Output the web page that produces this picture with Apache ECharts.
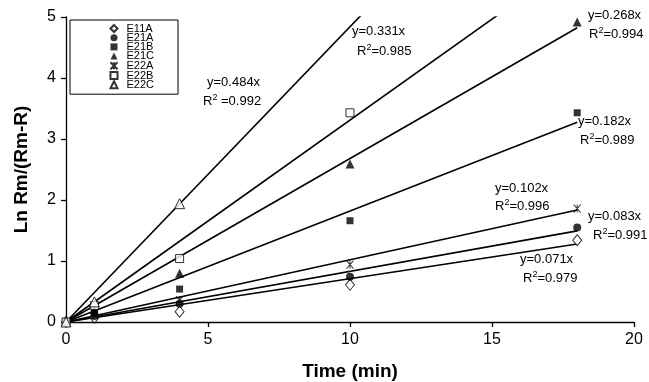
<!DOCTYPE html>
<html>
<head>
<meta charset="utf-8">
<script src="https://cdn.jsdelivr.net/npm/echarts@6/dist/echarts.min.js"></script>
<style>
  html, body { margin: 0; padding: 0; background: #fff; }
  #chart { width: 649px; height: 382px; }
</style>
</head>
<body>
<div id="chart"></div>
<script>
// Sampling times (min)
const time = [0, 1, 4, 10, 18];

// Measured Ln Rm/(Rm-R) per sample
const E11A = [0, 0.07, 0.17, 0.61, 1.34];
const E21A = [0, 0.10, 0.30, 0.74, 1.55];
const E21B = [0, 0.15, 0.54, 1.66, 3.43];
const E21C = [0, 0.20, 0.80, 2.59, 4.92];
const E22A = [0, 0.12, 0.36, 0.94, 1.86];
const E22B = [0, 0.27, 1.04, 3.43];
const E22C = [0, 0.33, 1.94];

// Fitted slopes (y = k·x) and R² values
const names  = ['E11A', 'E21A', 'E21B', 'E21C', 'E22A', 'E22B', 'E22C'];
const slopes = [0.071, 0.083, 0.182, 0.268, 0.102, 0.331, 0.484];
const r2     = ['0.979', '0.991', '0.989', '0.994', '0.996', '0.985', '0.992'];
const fitEnd = 18;

// Axis ticks
const xTicks = { min: 0, max: 20, interval: 5 };
const yTicks = { min: 0, max: 5, interval: 1 };

const FONT = '"Liberation Sans", Arial, Helvetica, sans-serif';
const values = [E11A, E21A, E21B, E21C, E22A, E22B, E22C];

const asterisk = 'path://M0,0 L10,10 M10,0 L0,10 M5,0 L5,10 M5,10 L5,0 M0,0 L10,10';
const markerStyles = {
  E11A: { symbol: 'diamond', symbolSize: [9, 11], itemStyle: { color: '#fff', borderColor: '#000', borderWidth: 1 } },
  E21A: { symbol: 'circle', symbolSize: 8, itemStyle: { color: '#000' } },
  E21B: { symbol: 'rect', symbolSize: 7, itemStyle: { color: '#000' } },
  E21C: { symbol: 'triangle', symbolSize: [9, 9], itemStyle: { color: '#000' } },
  E22A: { symbol: asterisk, symbolSize: [7, 8], itemStyle: { color: 'none', borderColor: '#000', borderWidth: 1 } },
  E22B: { symbol: 'rect', symbolSize: 8, itemStyle: { color: '#fff', borderColor: '#000', borderWidth: 1 } },
  E22C: { symbol: 'triangle', symbolSize: [10, 10], itemStyle: { color: '#fff', borderColor: '#000', borderWidth: 1 } }
};

const series = [];
// Fitted lines through the origin, clipped by the plot area
names.forEach((n, i) => {
  series.push({
    type: 'line',
    name: n + ' fit',
    data: [[0, 0], [fitEnd, slopes[i] * fitEnd]],
    showSymbol: false,
    symbol: 'none',
    clip: true,
    lineStyle: { color: '#000', width: 1.6 },
    z: 2,
    silent: true
  });
});
// Measured points
names.forEach((n, i) => {
  series.push(Object.assign({
    type: 'scatter',
    name: n,
    data: values[i].map((v, j) => [time[j], v]),
    z: 5
  }, markerStyles[n]));
});

// Equation annotations: [series index, eq left, eq top, R² left, R² top]
const notes = [
  [6, 207, 76, 203, 93],
  [5, 352, 25, 357, 43],
  [3, 588, 9, 589, 26],
  [2, 578, 115, 580, 132],
  [4, 495, 182, 495, 198],
  [1, 588, 210, 593, 227],
  [0, 520, 253, 523, 270]
];
const graphic = [];
notes.forEach(([i, x1, y1, x2, y2]) => {
  graphic.push({
    type: 'text', left: x1, top: y1, z: 10,
    style: { text: 'y=' + slopes[i].toFixed(3) + 'x', font: '13px ' + FONT, fill: '#000' }
  });
  graphic.push({
    type: 'text', left: x2, top: y2, z: 10,
    style: {
      text: '{a|R}{s|2}{a|' + (i === 6 ? ' ' : '') + '=' + r2[i] + '}',
      fill: '#000',
      rich: {
        a: { fontSize: 13, fontFamily: FONT, lineHeight: 17, color: '#000' },
        s: { fontSize: 9, fontFamily: FONT, lineHeight: 9, verticalAlign: 'top', color: '#000' }
      }
    }
  });
});

const chart = echarts.init(document.getElementById('chart'), null, { renderer: 'canvas' });
chart.setOption({
  backgroundColor: '#fff',
  animation: false,
  grid: { left: 66, right: 15, top: 17, bottom: 60, containLabel: false, outerBoundsMode: 'none' },
  legend: {
    data: names,
    orient: 'vertical',
    left: 70, top: 20,
    padding: [3, 24, 4, 38],
    itemGap: -1.8,
    itemWidth: 7, itemHeight: 7,
    borderColor: '#000', borderWidth: 1,
    backgroundColor: '#fff',
    textStyle: { fontFamily: FONT, fontSize: 11, color: '#000', padding: [0, 0, 0, 4] },
    selectedMode: false
  },
  xAxis: {
    type: 'value', min: xTicks.min, max: xTicks.max, interval: xTicks.interval,
    name: 'Time (min)', nameLocation: 'middle', nameGap: 40,
    nameTextStyle: { fontFamily: FONT, fontSize: 19, fontWeight: 'bold', color: '#000' },
    axisLine: { lineStyle: { color: '#000', width: 1.3 } },
    axisTick: { show: true, length: 5, lineStyle: { color: '#000', width: 1.3 } },
    axisLabel: { fontFamily: FONT, fontSize: 16, color: '#000', margin: 10 },
    splitLine: { show: false }
  },
  yAxis: {
    type: 'value', min: yTicks.min, max: yTicks.max, interval: yTicks.interval,
    name: 'Ln Rm/(Rm-R)', nameLocation: 'middle', nameGap: 35, nameRotate: 90,
    nameTextStyle: { fontFamily: FONT, fontSize: 19, fontWeight: 'bold', color: '#000' },
    axisLine: { show: true, lineStyle: { color: '#000', width: 1.3 } },
    axisTick: { show: true, length: 5, lineStyle: { color: '#000', width: 1.3 } },
    axisLabel: { fontFamily: FONT, fontSize: 16, color: '#000', margin: 10 },
    splitLine: { show: false }
  },
  graphic: graphic,
  series: series
});
</script>
</body>
</html>
